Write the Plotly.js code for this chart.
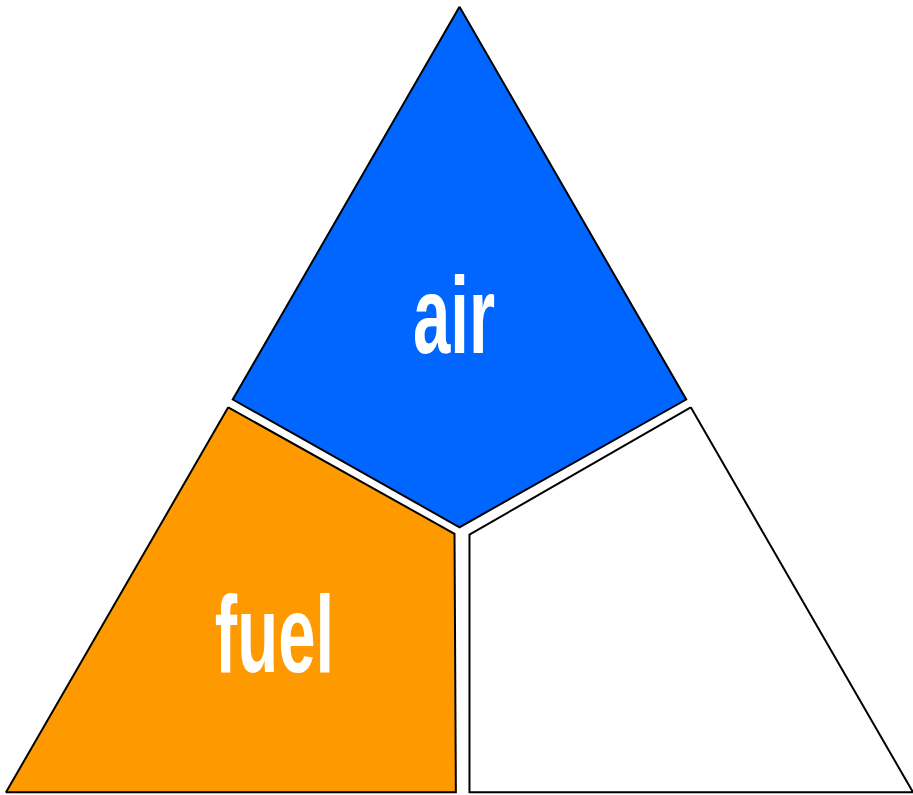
<!DOCTYPE html>
<html>
<head>
<meta charset="utf-8">
<script src="https://cdn.plot.ly/plotly-3.0.1.min.js"></script>
<style>html,body{margin:0;padding:0;background:#fff;}#chart{width:913px;height:795px;}</style>
</head>
<body>
<div id="chart"></div>
<script>
// Region outlines (ternary coordinates: a = air, b = fuel, c = heat)
var airA = [1, 0.5, 0.337, 0.5, 1];
var airB = [0, 0.5, 0.331, 0, 0];
var airC = [0, 0, 0.331, 0.5, 0];

var fuelA = [0.49, 0, 0, 0.329, 0.49];
var fuelB = [0.51, 1, 0.504, 0.341, 0.51];
var fuelC = [0, 0, 0.496, 0.33, 0];

var heatA = [0.49, 0.328, 0, 0, 0.49];
var heatB = [0, 0.325, 0.489, 0, 0];
var heatC = [0.51, 0.347, 0.511, 1, 0.51];

// Labels
var labels = ["air", "fuel"];
var labelA = [0.594, 0.188];
var labelB = [0.209, 0.61];
var labelC = [0.197, 0.202];

var line = {color: "#000000", width: 2};
var data = [
  {type: "scatterternary", mode: "lines", a: airA, b: airB, c: airC, cliponaxis: false,
   fill: "toself", fillcolor: "#0066ff", line: line, hoverinfo: "skip", name: "air"},
  {type: "scatterternary", mode: "lines", a: fuelA, b: fuelB, c: fuelC, cliponaxis: false,
   fill: "toself", fillcolor: "#ff9900", line: line, hoverinfo: "skip", name: "fuel"},
  {type: "scatterternary", mode: "lines", a: heatA, b: heatB, c: heatC, cliponaxis: false,
   fill: "toself", fillcolor: "#ffffff", line: line, hoverinfo: "skip", name: "heat"},
  {type: "scatterternary", mode: "text", a: labelA, b: labelB, c: labelC, cliponaxis: false,
   text: labels, textposition: "middle center",
   textfont: {family: "Liberation Sans, Arial, sans-serif",
              size: 110, color: "#ffffff", weight: "bold"},
   hoverinfo: "skip"}
];

var axis = {showline: false, showgrid: false, showticklabels: false, ticks: "", title: {text: ""}};
var layout = {
  width: 913, height: 795,
  margin: {l: 6, r: 0, t: 4, b: 0, pad: 0},
  showlegend: false,
  paper_bgcolor: "#ffffff",
  ternary: {
    domain: {x: [0, 1], y: [0, 1]},
    bgcolor: "#ffffff",
    sum: 1,
    aaxis: axis, baxis: axis, caxis: axis
  }
};
Plotly.newPlot("chart", data, layout, {displayModeBar: false, staticPlot: true}).then(function (gd) {
  // let the outlines show full width along the triangle edges
  gd.querySelectorAll(".ternary [clip-path]").forEach(function (el) {
    el.removeAttribute("clip-path");
  });
  // condensed lettering: squeeze label text horizontally about its anchor
  gd.querySelectorAll(".textpoint text").forEach(function (t) {
    var x = parseFloat(t.getAttribute("x")) || 0;
    t.setAttribute("transform", "translate(" + x + ",0) scale(0.61,1) translate(" + (-x) + ",0)");
  });
});
</script>
</body>
</html>
